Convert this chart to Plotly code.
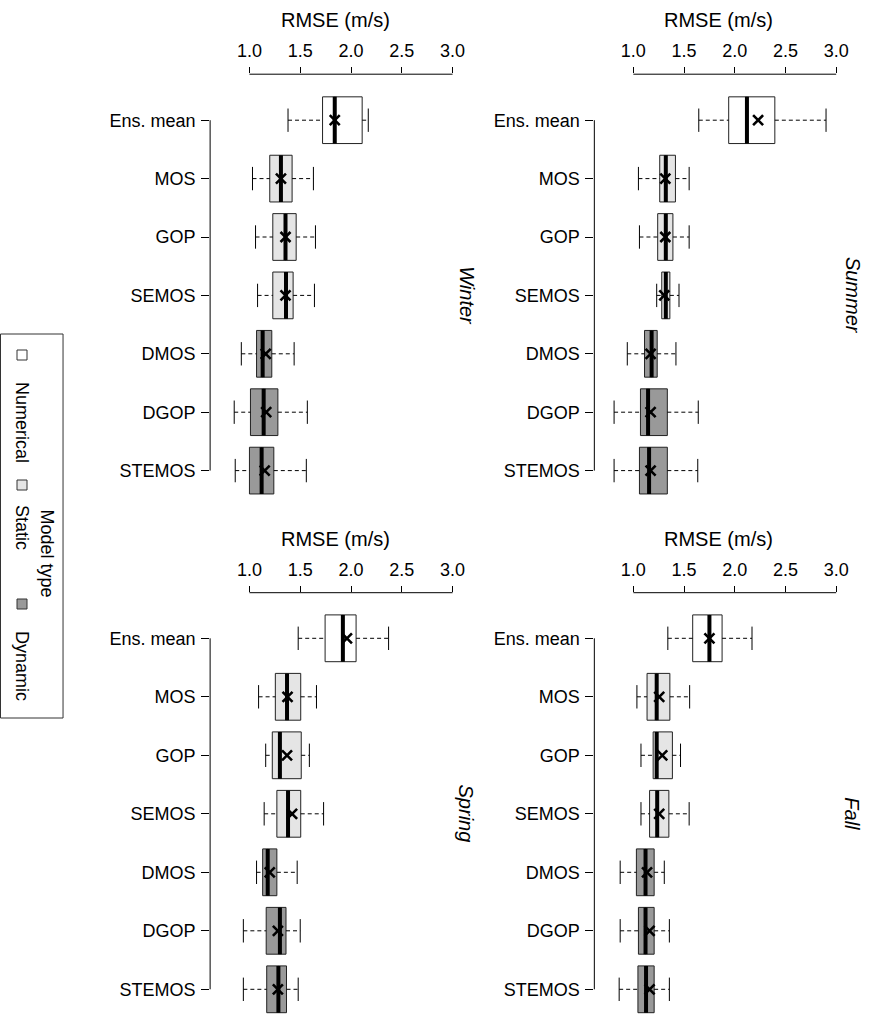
import plotly.graph_objects as go

# ---- data -------------------------------------------------------------
categories = ["Ens. mean", "MOS", "GOP", "SEMOS", "DMOS", "DGOP", "STEMOS"]
model_type = ["Numerical", "Static", "Static", "Static", "Dynamic", "Dynamic", "Dynamic"]
type_names = ["Numerical", "Static", "Dynamic"]
type_fill = {"Numerical": "#FFFFFF", "Static": "#E5E5E5", "Dynamic": "#999999"}
tick_vals = [1.0, 1.5, 2.0, 2.5, 3.0]
tick_text = ["1.0", "1.5", "2.0", "2.5", "3.0"]
seasons = ["Winter", "Summer", "Spring", "Fall"]

winter_low = [1.38, 1.03, 1.06, 1.08, 0.92, 0.85, 0.86]
winter_q1 = [1.72, 1.20, 1.23, 1.23, 1.07, 1.01, 1.00]
winter_med = [1.84, 1.31, 1.355, 1.36, 1.13, 1.14, 1.12]
winter_q3 = [2.11, 1.42, 1.46, 1.43, 1.22, 1.28, 1.24]
winter_high = [2.17, 1.63, 1.65, 1.64, 1.44, 1.57, 1.56]
winter_mean = [1.84, 1.31, 1.355, 1.355, 1.16, 1.165, 1.15]

summer_low = [1.645, 1.05, 1.06, 1.23, 0.94, 0.81, 0.81]
summer_q1 = [1.94, 1.26, 1.24, 1.28, 1.11, 1.07, 1.06]
summer_med = [2.12, 1.32, 1.32, 1.32, 1.18, 1.145, 1.155]
summer_q3 = [2.395, 1.415, 1.39, 1.36, 1.235, 1.335, 1.335]
summer_high = [2.90, 1.55, 1.55, 1.45, 1.42, 1.64, 1.635]
summer_mean = [2.23, 1.315, 1.315, 1.305, 1.17, 1.17, 1.17]

spring_low = [1.48, 1.09, 1.16, 1.145, 1.07, 0.94, 0.94]
spring_q1 = [1.745, 1.255, 1.225, 1.27, 1.13, 1.165, 1.17]
spring_med = [1.92, 1.37, 1.30, 1.38, 1.18, 1.30, 1.285]
spring_q3 = [2.05, 1.505, 1.51, 1.505, 1.27, 1.36, 1.365]
spring_high = [2.37, 1.66, 1.59, 1.73, 1.47, 1.50, 1.48]
spring_mean = [1.96, 1.375, 1.37, 1.42, 1.20, 1.28, 1.28]

fall_low = [1.34, 1.035, 1.075, 1.075, 0.87, 0.87, 0.86]
fall_q1 = [1.585, 1.135, 1.195, 1.16, 1.03, 1.05, 1.045]
fall_med = [1.75, 1.23, 1.23, 1.235, 1.12, 1.12, 1.125]
fall_q3 = [1.875, 1.36, 1.385, 1.35, 1.205, 1.205, 1.205]
fall_high = [2.17, 1.555, 1.465, 1.55, 1.305, 1.355, 1.355]
fall_mean = [1.75, 1.255, 1.285, 1.255, 1.135, 1.16, 1.16]

season_stats = {
    "Winter": (winter_low, winter_q1, winter_med, winter_q3, winter_high, winter_mean),
    "Summer": (summer_low, summer_q1, summer_med, summer_q3, summer_high, summer_mean),
    "Spring": (spring_low, spring_q1, spring_med, spring_q3, spring_high, spring_mean),
    "Fall": (fall_low, fall_q1, fall_med, fall_q3, fall_high, fall_mean),
}

# ---- page geometry (pixels) ---------------------------------------------
W, H = 876, 1016
WX = 869.5   # effective horizontal extent used for pixel -> paper conversion
FONT = "Liberation Sans, Arial, Helvetica, sans-serif"
FS_TICK = 18
FS_TITLE = 20
FS_SEASON = 20
FS_LEGEND = 18

# left, right, x of value 1.0, x of value 3.0, top axis y, first row y, row step, bottom
panel_geom = {
    "Winter": dict(left=210, right=461, v1=249.3, v3=452.3, top=74.2, row0=120.2, step=58.4, bottom=505, label_x=466),
    "Summer": dict(left=594, right=842, v1=633.0, v3=835.7, top=74.2, row0=120.2, step=58.4, bottom=505, label_x=852),
    "Spring": dict(left=210, right=461, v1=249.3, v3=452.3, top=592.7, row0=638.3, step=58.5, bottom=1016, label_x=466),
    "Fall": dict(left=594, right=842, v1=633.0, v3=835.7, top=592.7, row0=638.3, step=58.5, bottom=1016, label_x=852),
}


def px_x(p):
    return p / WX


def px_y(p):
    return 1 - p / H


fig = go.Figure()
layout_axes = {}
shapes = []
annotations = []
half = 0.4   # half box width in category units
cap = 0.2    # half staple width

for k, season in enumerate(seasons):
    g = panel_geom[season]
    sfx = "" if k == 0 else str(k + 1)
    xname, yname = "x" + sfx, "y" + sfx
    lo, q1, med, q3, hi, mn = season_stats[season]
    n = len(categories)
    pos = list(range(n))

    scale = (g["v3"] - g["v1"]) / 2.0
    xr = [1 + (g["left"] - g["v1"]) / scale, 1 + (g["right"] - g["v1"]) / scale]
    yr = [(g["bottom"] - g["row0"]) / g["step"], (g["top"] - g["row0"]) / g["step"]]

    # dashed whiskers
    wx, wy = [], []
    for i in pos:
        wx += [lo[i], q1[i], None, q3[i], hi[i], None]
        wy += [i, i, None, i, i, None]
    fig.add_trace(go.Scatter(x=wx, y=wy, mode="lines", xaxis=xname, yaxis=yname,
                             line=dict(color="black", width=1, dash="4px,3px"),
                             hoverinfo="skip", showlegend=False))
    # whisker staples
    sx, sy = [], []
    for i in pos:
        sx += [lo[i], lo[i], None, hi[i], hi[i], None]
        sy += [i - cap, i + cap, None, i - cap, i + cap, None]
    fig.add_trace(go.Scatter(x=sx, y=sy, mode="lines", xaxis=xname, yaxis=yname,
                             line=dict(color="black", width=1),
                             hoverinfo="skip", showlegend=False))
    # boxes, one trace per model type
    for t in type_names:
        idx = [i for i in pos if model_type[i] == t]
        fig.add_trace(go.Box(
            y=[i for i in idx], orientation="h",
            q1=[q1[i] for i in idx], median=[med[i] for i in idx], q3=[q3[i] for i in idx],
            lowerfence=[q1[i] for i in idx], upperfence=[q3[i] for i in idx],
            width=2 * half, whiskerwidth=0, boxpoints=False,
            fillcolor=type_fill[t], line=dict(color="#222222", width=1),
            xaxis=xname, yaxis=yname, name=t, showlegend=False, hoverinfo="skip"))
    # thick medians
    mx, my = [], []
    for i in pos:
        mx += [med[i], med[i], None]
        my += [i - half, i + half, None]
    fig.add_trace(go.Scatter(x=mx, y=my, mode="lines", xaxis=xname, yaxis=yname,
                             line=dict(color="black", width=4),
                             hoverinfo="skip", showlegend=False))
    # means
    fig.add_trace(go.Scatter(x=mn, y=pos, mode="markers", xaxis=xname, yaxis=yname,
                             marker=dict(symbol="x-thin-open", size=10, color="black",
                                         line=dict(color="black", width=2.6)),
                             hoverinfo="skip", showlegend=False))

    layout_axes["xaxis" + sfx] = dict(
        domain=[px_x(g["left"]), px_x(g["right"])], range=xr, anchor=yname, side="top",
        tickmode="array", tickvals=tick_vals, ticktext=tick_text,
        ticks="outside", ticklen=6, tickwidth=1, tickcolor="black",
        showline=False, showgrid=False, zeroline=False,
        tickfont=dict(family=FONT, size=FS_TICK, color="black"), ticklabelstandoff=3)
    layout_axes["yaxis" + sfx] = dict(
        domain=[px_y(g["bottom"]), px_y(g["top"])], range=yr, anchor=xname,
        tickmode="array", tickvals=pos, ticktext=categories,
        ticks="outside", ticklen=8, tickwidth=1, tickcolor="black",
        showline=False, showgrid=False, zeroline=False,
        tickfont=dict(family=FONT, size=FS_TICK, color="black"), ticklabelstandoff=2)

    # axis lines spanning only the tick range
    shapes.append(dict(type="line", xref=xname, yref=yname + " domain",
                       x0=tick_vals[0], x1=tick_vals[-1], y0=1, y1=1,
                       line=dict(color="black", width=1)))
    shapes.append(dict(type="line", xref=xname + " domain", yref=yname,
                       x0=0, x1=0, y0=pos[0], y1=pos[-1],
                       line=dict(color="black", width=1)))

    annotations.append(dict(text="RMSE (m/s)", xref="paper", yref="paper",
                            x=px_x((g["left"] + g["right"]) / 2), y=px_y(g["top"] - 54),
                            xanchor="center", yanchor="middle", showarrow=False,
                            font=dict(family=FONT, size=FS_TITLE, color="black")))
    annotations.append(dict(text="<i>%s</i>" % season, xref="paper", yref="paper",
                            x=px_x(g["label_x"]), y=px_y(g["row0"] + 3 * g["step"]),
                            xanchor="center", yanchor="middle", textangle=90, showarrow=False,
                            font=dict(family=FONT, size=FS_SEASON, color="black")))

# ---- rotated legend ------------------------------------------------------
shapes.append(dict(type="rect", xref="paper", yref="paper",
                   x0=px_x(0.5), x1=px_x(63), y0=px_y(334), y1=px_y(718),
                   line=dict(color="#333333", width=1), fillcolor="rgba(0,0,0,0)"))
legend_sq_y = [355, 485, 604]
legend_txt_y = [422, 527, 666]
for t, sy_, ty_ in zip(type_names, legend_sq_y, legend_txt_y):
    shapes.append(dict(type="rect", xref="paper", yref="paper",
                       x0=px_x(17), x1=px_x(27), y0=px_y(sy_ - 5), y1=px_y(sy_ + 5),
                       line=dict(color="#333333", width=1), fillcolor=type_fill[t]))
    annotations.append(dict(text=t, xref="paper", yref="paper", x=px_x(22), y=px_y(ty_),
                            xanchor="center", yanchor="middle", textangle=90, showarrow=False,
                            font=dict(family=FONT, size=FS_LEGEND, color="black")))
annotations.append(dict(text="Model type", xref="paper", yref="paper", x=px_x(46.5), y=px_y(553),
                        xanchor="center", yanchor="middle", textangle=90, showarrow=False,
                        font=dict(family=FONT, size=FS_LEGEND, color="black")))

fig.update_layout(
    width=W, height=H, autosize=False,
    margin=dict(l=0, r=0, t=0, b=0, pad=0),
    paper_bgcolor="white", plot_bgcolor="white",
    showlegend=False, shapes=shapes, annotations=annotations,
    font=dict(family=FONT, size=FS_TICK, color="black"),
    **layout_axes,
)

fig.write_html("out.html")
